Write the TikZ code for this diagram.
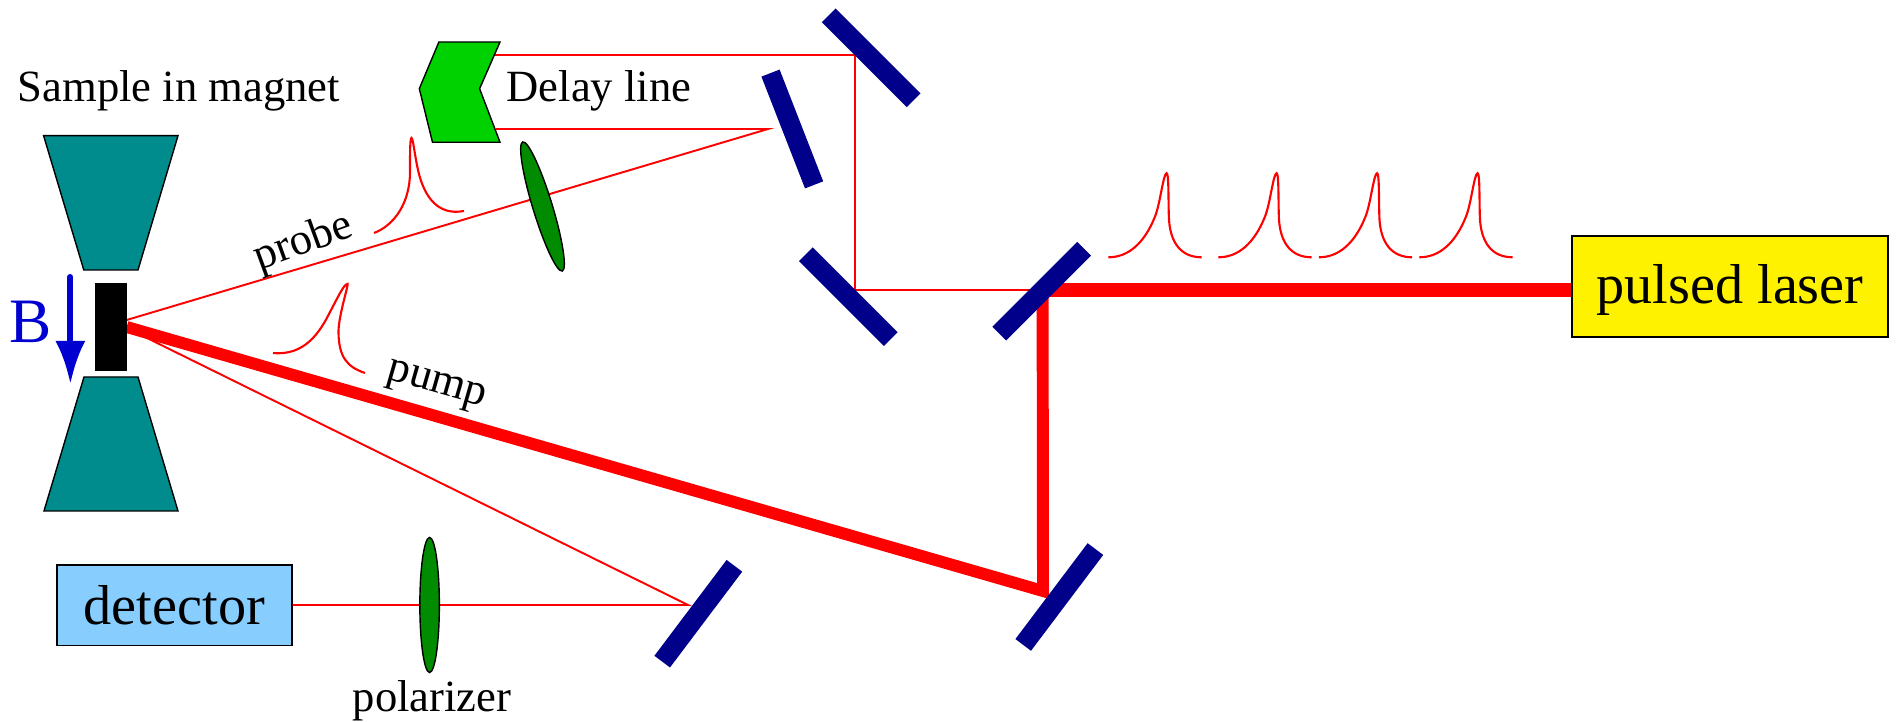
\documentclass[tikz,border=0pt]{standalone}
\usepackage{fontspec}
\setmainfont{Liberation Serif}
\usepackage{xcolor}
\usetikzlibrary{arrows.meta,positioning,shapes.geometric}
\definecolor{mirrorblue}{RGB}{0,0,139}
\definecolor{magnetteal}{RGB}{0,140,140}
\definecolor{retrogreen}{RGB}{0,210,0}
\definecolor{lensgreen}{RGB}{0,139,0}
\definecolor{detblue}{RGB}{135,206,255}
\definecolor{fieldblue}{RGB}{0,0,208}
\newcommand{\smalltext}{\fontsize{12.7}{15}\selectfont}
\newcommand{\bigtext}{\fontsize{16}{19}\selectfont}
\tikzset{
    mirror/.style={fill=mirrorblue, minimum width=1.2cm, minimum height=0.195cm, inner sep=0pt},
    lens/.style={ellipse, draw=black, line width=0.4pt, fill=lensgreen, minimum width=1.35cm, minimum height=0.195cm, inner sep=0pt},
    magnet/.style={draw=black, line width=0.4pt, fill=magnetteal},
    thinbeam/.style={red, line width=0.55pt},
    thickbeam/.style={red, line width=3.4pt, line join=miter},
    pulse/.style={red, line width=0.6pt},
    label/.style={font=\smalltext, anchor=base, inner sep=0pt}
}

\begin{document}
\begin{tikzpicture}[>=Latex]
    \useasboundingbox (0,0) rectangle (18.97,7.22);

    % beam end points
    \coordinate (sampleprobe) at (1.267,4.02);
    \coordinate (samplepump) at (1.267,3.95);
    \coordinate (samplerefl) at (1.267,3.94);
    \coordinate (retroupper) at (4.94,6.67);
    \coordinate (retrolower) at (4.96,5.93);
    \coordinate (foldupper) at (8.55,6.67);
    \coordinate (foldlower) at (8.55,4.32);
    \coordinate (slanttip) at (7.68,5.93);
    \coordinate (splitthin) at (10.40,4.32);
    \coordinate (splitthick) at (10.426,4.32);
    \coordinate (pumpend) at (10.43,1.31);
    \coordinate (detmirror) at (6.88,1.17);

    \node[draw=black, line width=0.4pt, fill=yellow, minimum width=3.16cm, minimum height=1.01cm, inner sep=0pt, font=\bigtext, text height=13pt, text depth=3.6pt] (laser) at (17.30,4.355) {pulsed laser};
    \node[draw=black, line width=0.4pt, fill=detblue, minimum width=2.348cm, minimum height=0.807cm, inner sep=0pt, font=\bigtext, text height=11.2pt, text depth=0pt] (detector) at (1.744,1.167) {detector};

    % beams
    \draw[red, line width=4.2pt] (splitthick) -- (laser.west |- splitthick);
    \draw[thickbeam] (samplepump) -- (pumpend) -- (splitthick);
    \draw[thinbeam] (splitthin) -- (foldlower) -- (foldupper) -- (retroupper);
    \draw[thinbeam] (retrolower) -- (slanttip) -- (sampleprobe);
    \draw[thinbeam] (samplerefl) -- (detmirror) -- (detector.east |- detmirror);

    % magnet and sample
    \draw[magnet] (0.436,5.863) -- (1.78,5.863) -- (1.38,4.52) -- (0.838,4.52) -- cycle;
    \draw[magnet] (0.84,3.45) -- (1.38,3.45) -- (1.78,2.11) -- (0.44,2.11) -- cycle;
    \node[fill=black, minimum width=0.317cm, minimum height=0.88cm, inner sep=0pt] (sample) at (1.108,3.95) {};
    \coordinate (fieldstart) at (0.704,4.45);
    \coordinate (fieldend) at (0.704,3.38);
    \draw[-{Latex[length=4.3mm,width=3mm]}, fieldblue, line width=1.7pt, line cap=round] (fieldstart) -- (fieldend);
    \node[anchor=base, inner sep=0pt, fieldblue, font=\fontsize{18}{21}\selectfont] (fieldlabel) at (0.31,3.79) {B};

    % delay line
    \draw[draw=black, line width=0.4pt, fill=retrogreen] (4.389,6.80) -- (5.0,6.80) -- (4.796,6.333) -- (5.0,5.797) -- (4.325,5.797) -- (4.193,6.333) -- cycle;
    \node[mirror, rotate=-45] (mirrortop) at (8.712,6.642) {};
    \node[mirror, rotate=-68.7] (mirrorslant) at (7.923,5.93) {};
    \node[mirror, rotate=-45] (mirrorfold) at (8.483,4.253) {};
    \node[mirror, rotate=45] (splitter) at (10.416,4.308) {};
    \node[mirror, rotate=53] (mirrordet) at (6.983,1.083) {};
    \node[mirror, rotate=53] (mirrorpump) at (10.593,1.25) {};

    \node[lens, rotate=-73] (probelens) at (5.425,5.155) {};
    \node[lens, rotate=90] (polarizer) at (4.296,1.17) {};

    % pulses
    \draw[pulse] (3.74,4.89) .. controls (3.95,4.97) and (4.10,5.2) .. (4.10,5.5) .. controls (4.10,5.7) and (4.10,5.84) .. (4.115,5.84) .. controls (4.13,5.84) and (4.15,5.65) .. (4.18,5.52) .. controls (4.24,5.25) and (4.38,5.06) .. (4.64,5.11);
    \draw[pulse] (2.73,3.69) .. controls (3.05,3.66) and (3.2,3.9) .. (3.3,4.1) .. controls (3.38,4.25) and (3.44,4.38) .. (3.475,4.38) .. controls (3.49,4.38) and (3.38,4.05) .. (3.385,3.89) .. controls (3.39,3.65) and (3.47,3.55) .. (3.65,3.49);
    \foreach \dx in {0,1.10,2.105,3.11} {
        \draw[pulse, shift={(11.083+\dx,4.647)}] (0,0) .. controls (0.2,0) and (0.36,0.14) .. (0.467,0.407) .. controls (0.52,0.54) and (0.55,0.84) .. (0.583,0.84) .. controls (0.605,0.84) and (0.6,0.6) .. (0.605,0.42) .. controls (0.61,0.13) and (0.74,0) .. (0.933,0);
    }

    % labels
    \node[label] (samplelabel) at (1.79,6.203) {Sample in magnet};
    \node[label] (delaylabel) at (5.99,6.203) {Delay line};
    \node[label] (polarlabel) at (4.32,0.103) {polarizer};
    \node[label, anchor=center, rotate=20] (probelabel) at (3.04,4.79) {probe};
    \node[label, anchor=center, rotate=-16] (pumplabel) at (4.36,3.35) {pump};
\end{tikzpicture}
\end{document}
